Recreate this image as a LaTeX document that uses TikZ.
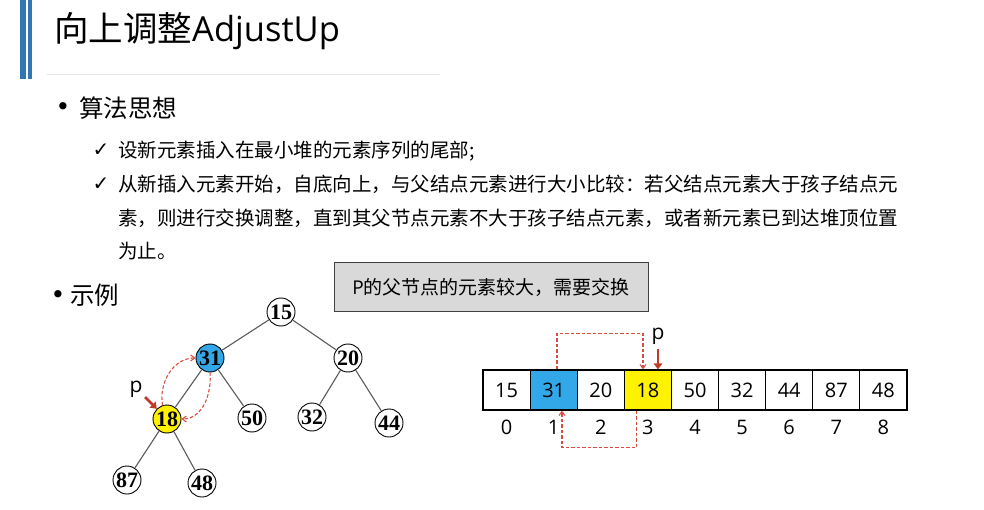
\documentclass[tikz,border=0pt]{standalone}
\usepackage{fontspec}
\setmainfont{Noto Sans CJK SC}
\newfontfamily\latfont{Open Sans}
\newfontfamily\numfont{Liberation Serif}
\newfontfamily\symfont{DejaVu Sans}
\usetikzlibrary{arrows.meta}
\definecolor{barblue}{RGB}{49,119,180}
\definecolor{rulegray}{RGB}{228,228,228}
\definecolor{nodeblue}{RGB}{51,168,232}
\definecolor{boxgray}{RGB}{217,217,217}
\definecolor{boxborder}{RGB}{64,64,64}
\definecolor{darkred}{RGB}{192,57,43}
\definecolor{dashred}{RGB}{214,78,66}
\definecolor{edgegray}{RGB}{90,90,90}
\tikzset{
  body/.style={anchor=base west, inner sep=0pt, font=\fontsize{19.5}{19.5}\selectfont},
  head/.style={anchor=base west, inner sep=0pt, font=\fontsize{24.5}{24.5}\selectfont},
  tick/.style={inner sep=0pt, font=\fontsize{20}{20}\symfont},
  bul/.style={inner sep=0pt, font=\fontsize{25}{25}\symfont},
  tn/.style={circle, draw=black, line width=0.9pt, minimum size=28pt, inner sep=0pt, fill=white, font=\fontsize{22}{22}\numfont\bfseries},
  edge/.style={draw=edgegray, line width=1.1pt},
  cell/.style={draw=black, line width=1.2pt, minimum width=47.1pt, minimum height=40pt, inner sep=0pt, font=\fontsize{20}{20}\latfont},
  idx/.style={inner sep=0pt, font=\fontsize{20}{20}\latfont},
  plab/.style={inner sep=0pt, font=\fontsize{21}{21}\latfont},
  redarr/.style={draw=darkred, line width=2.6pt, -{Triangle[length=6pt,width=8.5pt]}},
  dsh/.style={draw=dashred, line width=1.1pt, dash pattern=on 3.5pt off 2pt, -{Straight Barb[length=4pt,width=6pt]}},
  gbox/.style={draw=boxborder, fill=boxgray, line width=1pt, minimum width=314pt, minimum height=48pt, inner sep=0pt, font=\fontsize{19}{19}\selectfont}
}
\begin{document}
\begin{tikzpicture}[x=1pt,y=-1pt]
\useasboundingbox (0,0) rectangle (984,510);
\fill[white] (0,0) rectangle (984,510);
% title bars
\fill[barblue] (20,0) rectangle (26,79);
\fill[barblue] (27.5,0) rectangle (32,79);
\draw[rulegray, line width=1pt] (47,75) -- (440,75);
\node[anchor=base west, inner sep=0pt, font=\fontsize{34.5}{34.5}\selectfont] (title) at (54,42) {向上调整{\latfont AdjustUp}};
% bullets
\node[bul] (b1) at (63,109) {•};
\node[head] (h1) at (79,118) {算法思想};
\node[tick] (k1) at (101,150.5) {✓};
\node[body] (l1) at (118,157.7) {设新元素插入在最小堆的元素序列的尾部;};
\node[tick] (k2) at (101,184.5) {✓};
\node[body] (l2) at (118,191.7) {从新插入元素开始，自底向上，与父结点元素进行大小比较：若父结点元素大于孩子结点元};
\node[body] (l3) at (118,225.2) {素，则进行交换调整，直到其父节点元素不大于孩子结点元素，或者新元素已到达堆顶位置};
\node[body] (l4) at (118,258.7) {为止。};
\node[bul] (b2) at (58,297) {•};
\node[head] (h2) at (70,305) {示例};
% message box
\node[gbox] (msg) at (491,287) {{\latfont P}的父节点的元素较大，需要交换};
% tree
\node[tn] (n15) at (281,312) {15};
\node[tn, fill=nodeblue] (n31) at (210,358) {31};
\node[tn] (n20) at (348,358) {20};
\node[tn, fill=yellow] (n18) at (167,419) {18};
\node[tn] (n50) at (252,418) {50};
\node[tn] (n32) at (312,417) {32};
\node[tn] (n44) at (389,423) {44};
\node[tn] (n87) at (127,480) {87};
\node[tn] (n48) at (202,483) {48};
\draw[edge] (n15) -- (n31);
\draw[edge] (n15) -- (n20);
\draw[edge] (n31) -- (n18);
\draw[edge] (n31) -- (n50);
\draw[edge] (n20) -- (n32);
\draw[edge] (n20) -- (n44);
\draw[edge] (n18) -- (n87);
\draw[edge] (n18) -- (n48);
\node[plab] (pt) at (136,389) {p};
\coordinate (pst) at (145,397);
\draw[redarr] (pst) -- (n18.north west);
\draw[dsh] (n18.108) to[out=100,in=180] (n31.west);
\draw[dsh] (n31.south) to[out=-85,in=0] (n18.east);
% array
\node[cell] (c0) at (506.6,390) {15};
\node[cell, fill=nodeblue] (c1) at (553.7,390) {31};
\node[cell] (c2) at (600.8,390) {20};
\node[cell, fill=yellow] (c3) at (647.9,390) {18};
\node[cell] (c4) at (695.0,390) {50};
\node[cell] (c5) at (742.1,390) {32};
\node[cell] (c6) at (789.2,390) {44};
\node[cell] (c7) at (836.3,390) {87};
\node[cell] (c8) at (883.4,390) {48};
\foreach \i in {0,...,8} {
  \node[idx] (i\i) at ([yshift=-37pt]c\i.center) {\i};
}
\node[plab] (pa) at (658,336) {p};
\draw[redarr] ([yshift=-5pt]pa.south) -- (pa.south |- c3.north);
\draw[dsh] ([xshift=3.3pt]c1.north) -- ++(0,-36) -| ([xshift=-4.9pt]c3.north);
\draw[dsh] ([xshift=-11pt]c3.south) -- ++(0,37) -| ([xshift=8.3pt]c1.south);
\end{tikzpicture}
\end{document}
